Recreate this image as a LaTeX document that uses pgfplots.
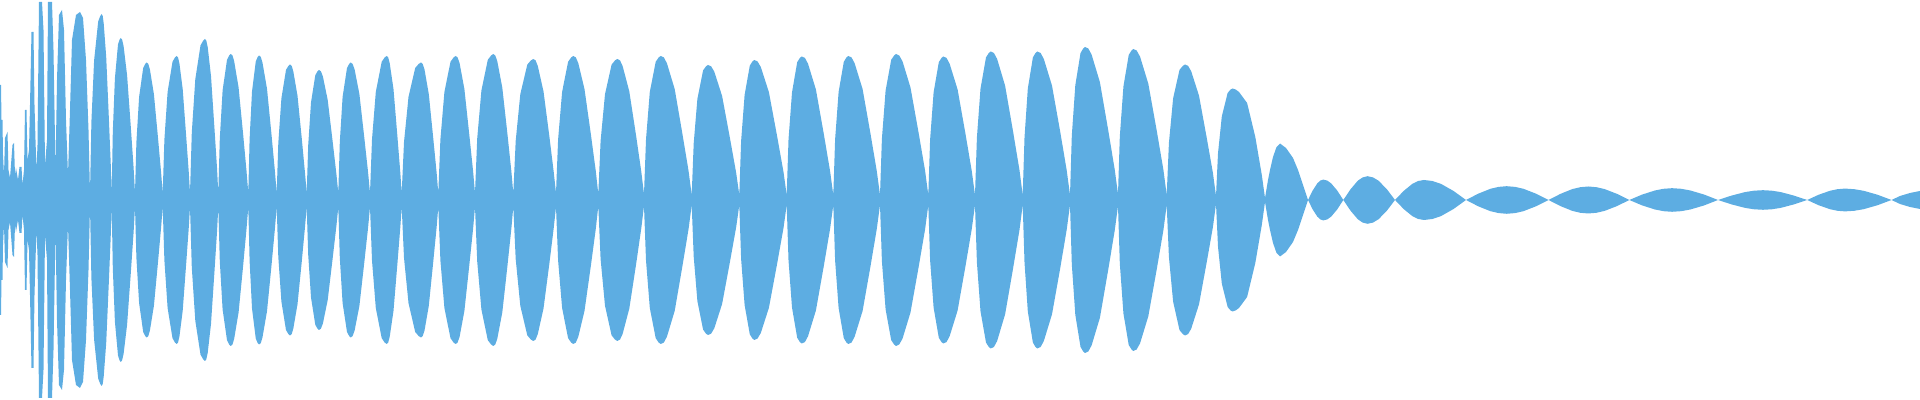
\documentclass[border=0pt]{standalone}
\usepackage{pgfplots}
\usepackage{pgfplotstable}
\pgfplotsset{compat=1.18}
\usepgfplotslibrary{fillbetween}
\definecolor{wave}{RGB}{93,173,226}
\pgfplotstableread{
x a
0 115
1 115
1.5 80
2.5 80
3 45
4 25
5 62
7.5 68
8.5 30
10 22
12.5 55
14 57
15 25
16 32
18 20
19.5 33
21.5 33
22.5 15
24 30
25 90
26.5 90
27.5 40
29 50
30 95
31.5 168
33.5 168
34.5 95
35.5 60
36.5 30
37.5 55
39 198
42 198
43.5 170
45 35
47 60
48 198
52 198
53.5 150
55.5 30
57 120
59 185
62 190
64 170
66 80
68 25
70 90
72 160
76 185
80 188
83 182
86 140
88.5 70
90 7
91.4 78.1
94.1 139.5
98.2 178.6
100.3 184.1
101.7 186
102.7 184.1
103.7 176.7
106.2 143.2
108.7 85.6
110.7 37.2
111.7 7
112.8 68
114.9 121.5
118 155.5
119.6 160.4
120.7 162
122.1 160.4
123.6 153.9
127.1 124.7
130.7 74.5
133.6 32.4
135 7
136.4 57.8
139.1 103.1
143.2 132
145.3 136.1
146.7 137.5
148.3 136.1
149.9 130.6
153.9 105.9
157.9 63.3
161.1 27.5
162.7 7
164.4 60.5
167.6 108
172.5 138.2
175 142.6
176.7 144
178 142.6
179.4 136.8
182.7 110.9
186 66.2
188.7 28.8
190 7
191.8 67.6
195.3 120.8
200.5 154.6
203.2 159.4
205 161
206.3 159.4
207.7 153
211 124
214.3 74.1
217 32.2
218.3 7
219.8 61.3
222.6 109.5
227 140.2
229.2 144.5
230.7 146
232.5 144.5
234.2 138.7
238.6 112.4
243 67.2
246.5 29.2
248.3 7
249.6 60.7
252 108.4
255.8 138.7
257.7 143.1
259 144.5
260.8 143.1
262.5 137.3
267 111.3
271.4 66.5
274.9 28.9
276.7 7
278.3 56.9
281.4 101.6
286 130.1
288.4 134.1
290 135.5
291.7 134.1
293.3 128.7
297.5 104.3
301.7 62.3
305 27.1
306.7 7
308.2 54.6
311 97.5
315.3 124.8
317.5 128.7
319 130
320.9 128.7
322.9 123.5
327.7 100.1
332.5 59.8
336.4 26
338.3 7
339.8 57.8
342.6 103.1
347 132
349.2 136.1
350.7 137.5
352.6 136.1
354.6 130.6
359.4 105.9
364.2 63.3
368.1 27.5
370 7
372 60.5
375.8 108
381.7 138.2
384.7 142.6
386.7 144
388.2 142.6
389.7 136.8
393.5 110.9
397.2 66.2
400.2 28.8
401.7 7
404 57.8
408.5 103.1
415.2 132
418.7 136.1
421 137.5
422.7 136.1
424.5 130.6
428.8 105.9
433.1 63.3
436.6 27.5
438.3 7
440.4 60.5
444.4 108
450.5 138.2
453.6 142.6
455.7 144
457.6 142.6
459.6 136.8
464.4 110.9
469.2 66.2
473.1 28.8
475 7
477.2 61.3
481.4 109.5
487.8 140.2
491.1 144.5
493.3 146
495.3 144.5
497.3 138.7
502.3 112.4
507.3 67.2
511.3 29.2
513.3 7
515.7 59.2
520.3 105.8
527.3 135.4
530.9 139.6
533.3 141
535.6 139.6
537.8 134
543.5 108.6
549.2 64.9
553.7 28.2
556 7
558.1 60.5
562.1 108
568.1 138.2
571.2 142.6
573.3 144
575.8 142.6
578.3 136.8
584.5 110.9
590.8 66.2
595.8 28.8
598.3 6
600.6 59.2
605 105.8
611.6 135.4
615 139.6
617.3 141
620 139.6
622.6 134
629.3 108.6
636 64.9
641.3 28.2
644 6
646 60.5
649.8 108
655.7 138.2
658.7 142.6
660.7 144
663.8 142.6
666.9 136.8
674.7 110.9
682.4 66.2
688.6 28.8
691.7 5
693.7 56.7
697.4 101.3
703.1 129.6
706 133.7
708 135
711.1 133.7
714.3 128.3
722.1 104
729.9 62.1
736.2 27
739.3 5
741.1 58.8
744.6 105
749.8 134.4
752.5 138.6
754.3 140
757.5 138.6
760.8 133
768.9 107.8
777 64.4
783.5 28
786.7 5
788.5 60.3
792 107.6
797.2 137.8
799.9 142.1
801.7 143.5
804.9 142.1
808 136.3
815.9 110.5
823.8 66
830.1 28.7
833.3 5
835.1 60.5
838.6 108
843.8 138.2
846.5 142.6
848.3 144
851.5 142.6
854.6 136.8
862.6 110.9
870.5 66.2
876.8 28.8
880 5
881.9 61.3
885.6 109.5
891.2 140.2
894.1 144.5
896 146
899.2 144.5
902.5 138.7
910.5 112.4
918.6 67.2
925.1 29.2
928.3 5
930.1 60.3
933.6 107.6
938.8 137.8
941.5 142.1
943.3 143.5
946.5 142.1
949.6 136.3
957.6 110.5
965.5 66
971.8 28.7
975 5
976.9 62.4
980.5 111.4
986 142.6
988.8 147
990.7 148.5
993.9 147
997.1 141.1
1005.1 114.3
1013.1 68.3
1019.5 29.7
1022.7 5
1024.5 62.4
1027.8 111.4
1032.9 142.6
1035.5 147
1037.3 148.5
1040.6 147
1043.8 141.1
1052 114.3
1060.2 68.3
1066.7 29.7
1070 5
1071.8 64.3
1075.3 114.8
1080.5 146.9
1083.2 151.5
1085 153
1088.3 151.5
1091.6 145.4
1099.9 117.8
1108.1 70.4
1114.7 30.6
1118 6
1119.8 63.4
1123.4 113.3
1128.7 145
1131.5 149.5
1133.3 151
1136.6 149.5
1140 143.5
1148.3 116.3
1156.7 69.5
1163.4 30.2
1166.7 5
1168.9 56.9
1173.1 101.6
1179.5 130.1
1182.8 134.1
1185 135.5
1188.1 134.1
1191.2 128.7
1199 104.3
1206.7 62.3
1212.9 27.1
1216 4
1218 46.8
1221.8 83.6
1227.6 107
1230.5 110.4
1232.5 111.5
1235.8 110.4
1239 108
1247.1 97
1255.3 63
1261.8 25
1265 2
1268 20
1270 30
1273 43
1276.5 53
1280 56.5
1286 52
1293 42
1298 30
1303 15
1308 0
1312.6 9.3
1317.2 16.5
1320.2 19.4
1323.3 20.4
1327.3 19.4
1331.3 16.5
1337.3 9.3
1343.3 0
1350.6 10.8
1357.8 19.3
1362.7 22.6
1367.5 23.8
1373 22.6
1378.5 19.3
1386.8 10.8
1395 0
1403.7 9.1
1412.4 16.2
1418.2 19
1424 20
1432.4 19
1440.8 16.2
1453.4 9.1
1466 0
1478.2 6.3
1490.4 11.2
1498.6 13.1
1506.7 13.8
1515.1 13.1
1523.4 11.2
1536 6.3
1548.5 0
1560.4 6.1
1572.3 10.9
1580.3 12.8
1588.2 13.5
1596.4 12.8
1604.6 10.9
1617 6.1
1629.3 0
1642.1 5.4
1654.9 9.5
1663.5 11.2
1672 11.8
1681.2 11.2
1690.4 9.5
1704.2 5.4
1718 0
1731.5 4.4
1745 7.9
1754 9.3
1763 9.8
1771.8 9.3
1780.7 7.9
1793.9 4.4
1807.2 0
1818.5 5.2
1829.9 9.2
1837.4 10.8
1845 11.4
1854.3 10.8
1863.6 9.2
1877.6 5.2
1891.5 0
1900 4
1910 7
1920 9
}\wavedata
\begin{document}
\begin{tikzpicture}
\begin{axis}[
  hide axis,
  scale only axis,
  width=19.2cm, height=4cm,
  xmin=0, xmax=1920, ymin=-200, ymax=200,
  clip=true,
]
\addplot[draw=none, name path=top] table[x=x, y=a] {\wavedata};
\addplot[draw=none, name path=bot] table[x=x, y expr=-\thisrow{a}] {\wavedata};
\addplot[fill=wave, draw=none] fill between[of=top and bot];
\end{axis}
\pgfresetboundingbox
\path (current axis.south west) rectangle (current axis.north east);
\end{tikzpicture}
\end{document}
